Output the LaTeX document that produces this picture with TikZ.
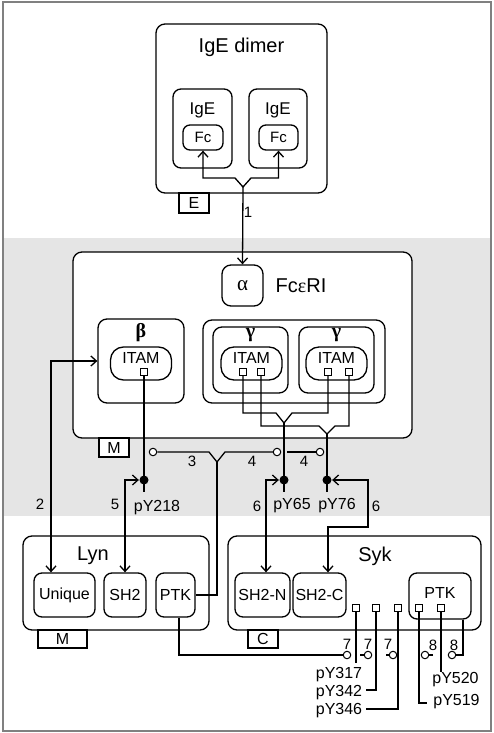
\documentclass[tikz,border=0pt]{standalone}
\usepackage{fontspec}
\setmainfont{Liberation Sans}
\newfontfamily\grk{Liberation Serif}
\usetikzlibrary{arrows.meta}

\begin{document}
\begin{tikzpicture}[x=1pt, y=-1pt, line width=1.3pt,
    font=\fontsize{16}{19}\selectfont,
    >={Straight Barb[length=5.5pt,width=10pt]},
    box/.style={draw, fill=white, rounded corners=9pt, inner sep=0pt},
    tag/.style={draw, fill=white, inner sep=0pt},
    itam/.style={draw, fill=white, rounded corners=13pt, minimum width=61pt, minimum height=33pt},
    site/.style={draw, fill=white, inner sep=0pt, minimum size=7pt, line width=1pt},
    pdot/.style={circle, fill=black, inner sep=0pt, minimum size=9pt},
    ring/.style={circle, draw, fill=white, inner sep=0pt, minimum size=7.5pt, line width=1pt},
    big/.style={font=\fontsize{20}{23}\selectfont, anchor=base},
    num/.style={font=\fontsize{15}{18}\selectfont, anchor=base},
    plab/.style={anchor=base},
    grkb/.style={font=\grk\bfseries\fontsize{20}{22}\selectfont}]
  \useasboundingbox (0,0) rectangle (493,733);
  % membrane band and frame
  \fill[gray!20] (3,238) rectangle (491,516);
  \draw[gray, line width=1.5pt] (3,2) rectangle (491,731);

  % IgE dimer
  \node[box, minimum width=171pt, minimum height=169pt] (dimer) at (241.5,108.5) {};
  \node[big] (dimerT) at (241.5,53) {IgE dimer};
  \node[tag, minimum width=30pt, minimum height=20pt] (E) at (194,203) {E};
  \node[box, rounded corners=8pt, minimum width=59pt, minimum height=79pt] (igeL) at (202.5,128.5) {};
  \node[box, rounded corners=8pt, minimum width=58pt, minimum height=79pt] (igeR) at (278,128.5) {};
  \node[plab, font=\fontsize{17}{20}\selectfont] (igeLT) at (202.5,115) {IgE};
  \node[plab, font=\fontsize{17}{20}\selectfont] (igeRT) at (278,115) {IgE};
  \node[box, rounded corners=7pt, minimum width=40pt, minimum height=25pt, font=\fontsize{15}{17}\selectfont] (fcL) at (203,137.5) {Fc};
  \node[box, rounded corners=7pt, minimum width=39pt, minimum height=25pt, font=\fontsize{15}{17}\selectfont] (fcR) at (278.5,137.5) {Fc};

  % Fc epsilon RI
  \node[box, minimum width=339pt, minimum height=186pt] (fceri) at (242.5,345) {};
  \node[tag, minimum width=30pt, minimum height=19pt] (M1) at (114,447.5) {M};
  \node[box, minimum width=41pt, minimum height=41pt, font=\grk\fontsize{21}{24}\selectfont] (alpha) at (242.5,285.5) {α};
  \node[big] (fceriT) at (301,292) {Fc{\grk ε}RI};
  \node[box, minimum width=86pt, minimum height=84pt] (beta) at (141,361) {};
  \node[grkb] (betaT) at (141,333) {β};
  \node[itam] (itamB) at (141,363.5) {};
  \node (itamBT) at (141,358) {ITAM};
  \node[box, minimum width=182pt, minimum height=83pt] (gamma) at (294,361.5) {};
  \node[box, minimum width=75pt, minimum height=66pt] (gamL) at (250.5,360) {};
  \node[box, minimum width=75pt, minimum height=66pt] (gamR) at (336.5,360) {};
  \node[grkb] (gamLT) at (250.5,335) {γ};
  \node[grkb] (gamRT) at (336.5,335) {γ};
  \node[itam] (itamL) at (251.5,363.5) {};
  \node[itam] (itamR) at (336.5,363.5) {};
  \node (itamLT) at (251.5,358) {ITAM};
  \node (itamRT) at (336.5,358) {ITAM};

  % Lyn
  \node[box, minimum width=186pt, minimum height=94pt] (lyn) at (116,583) {};
  \node[big] (lynT) at (93,560) {Lyn};
  \node[tag, minimum width=49pt, minimum height=18pt] (M2) at (62.5,639) {M};
  \node[box, rounded corners=8pt, minimum width=61pt, minimum height=44pt] (unique) at (64.5,595) {Unique};
  \node[box, rounded corners=8pt, minimum width=42pt, minimum height=44pt] (sh2) at (125,595) {SH2};
  \node[box, rounded corners=8pt, minimum width=39pt, minimum height=44pt] (ptkL) at (175.5,595) {PTK};

  % Syk
  \node[box, minimum width=253pt, minimum height=94pt] (syk) at (354.5,583) {};
  \node[big] (sykT) at (375,561) {Syk};
  \node[tag, minimum width=30pt, minimum height=18pt] (C) at (263,639) {C};
  \node[box, rounded corners=8pt, minimum width=55pt, minimum height=44pt] (sh2n) at (262.5,595) {SH2-N};
  \node[box, rounded corners=8pt, minimum width=53pt, minimum height=44pt] (sh2c) at (319.5,595) {SH2-C};
  \node[box, rounded corners=8pt, minimum width=62pt, minimum height=46pt] (ptkS) at (440,596) {};
  \node (ptkST) at (440,593) {PTK};

  % tyrosine sites
  \node[site] (sqB) at (144,372) {};
  \node[site] (sqG1) at (243,372) {};
  \node[site] (sqG2) at (261,372) {};
  \node[site] (sqG3) at (328,372) {};
  \node[site] (sqG4) at (349,372) {};
  \node[site] (sqS1) at (356,608) {};
  \node[site] (sqS2) at (376,608) {};
  \node[site] (sqS3) at (398,608) {};
  \node[site] (sqS4) at (419,608) {};
  \node[site] (sqS5) at (441,608) {};

  % phospho sites and catalysis marks
  \node[pdot] (dot218) at (144,480) {};
  \node[pdot] (dot65) at (284,480) {};
  \node[pdot] (dot76) at (327,480) {};
  \node[ring] (c3) at (153,452) {};
  \node[ring] (c4a) at (277,452) {};
  \node[ring] (c4b) at (320,452) {};
  \node[ring] (c7a) at (347,655) {};
  \node[ring] (c7b) at (368,655) {};
  \node[ring] (c7c) at (393,655) {};
  \node[ring] (c8a) at (425,655) {};
  \node[ring] (c8b) at (452,655) {};

  \coordinate (v0) at (243,187);
  \coordinate (v3) at (217,462);
  \coordinate (v65) at (284,423);
  \coordinate (v76) at (327,434);
  \coordinate (g4) at (287,452);
  \coordinate (g7b) at (360,655);
  \coordinate (g7c) at (386,655);
  \coordinate (g8) at (433,655);
  \coordinate (k6) at (368,527);
  \coordinate (e218) at (144,492);
  \coordinate (e65) at (284,492);
  \coordinate (e76) at (327,492);
  \coordinate (e317) at (356,663);
  \coordinate (e342) at (366,690);
  \coordinate (e346) at (366,709);
  \coordinate (e519) at (427,703);
  \coordinate (e520) at (441,672);

  % 1: IgE binds alpha
  \draw[<->] (fcL.south) |- ([xshift=-8pt,yshift=9pt]v0) -- (v0) -- ([xshift=8pt,yshift=9pt]v0) -| (fcR.south);
  \draw[->] (v0) -- (alpha.north);
  \node[num] (n1) at (248,217) {1};

  % ITAM tyrosines
  \draw (sqB.south) -- (dot218.center) -- (e218);
  \draw (sqG1.south) |- ([xshift=-8pt,yshift=10pt]v65) -- (v65) -- ([xshift=8pt,yshift=10pt]v65) -| (sqG3.south);
  \draw (sqG2.south) |- ([xshift=-8pt,yshift=8pt]v76) -- (v76) -- ([xshift=8pt,yshift=8pt]v76) -| (sqG4.south);
  \draw (v65) -- (dot65.center) -- (e65);
  \draw (v76) -- (dot76.center) -- (e76);

  % 3, 4: Lyn PTK
  \draw (c3.east) -- ([xshift=-8pt,yshift=10pt]v3) -- (v3) -- ([xshift=8pt,yshift=10pt]v3) -- (c4a.west);
  \draw (v3) |- (ptkL.east);
  \draw (g4) -- (c4b.west);
  \node[num] (n3) at (192,466) {3};
  \node[num] (n4a) at (252,466) {4};
  \node[num] (n4b) at (304,466) {4};

  % 2, 5, 6: binding
  \draw[<->] (beta.west) -| ([xshift=-13.5pt]unique.north);
  \draw[<->] (dot218.west) -| (sh2.north);
  \draw[<->] (dot65.west) -| ([xshift=3.5pt]sh2n.north);
  \draw[<->] (dot76.east) -| (k6) -| ([xshift=8.5pt]sh2c.north);
  \node[num] (n2) at (40,509.5) {2};
  \node[num] (n5) at (115,509.5) {5};
  \node[num] (n6a) at (257,511) {6};
  \node[num] (n6b) at (376,511) {6};
  \node[plab] (l218) at (157,511) {pY218};
  \node[plab] (l65) at (292,509) {pY65};
  \node[plab] (l76) at (337,509) {pY76};

  % 7, 8: Syk tyrosines
  \draw ([xshift=3.5pt]ptkL.south) |- (c7a.west);
  \draw (g7b) -- (c7b.west);
  \draw (g7c) -- (c7c.west);
  \draw ([xshift=23pt]ptkS.south) |- (c8b.east);
  \draw (g8) -- (c8a.east);
  \draw (sqS1.south) -- (e317);
  \draw (sqS2.south) |- (e342);
  \draw (sqS3.south) |- (e346);
  \draw (sqS4.south) |- (e519);
  \draw (sqS5.south) -- (e520);
  \node[num] (n7a) at (347,649) {7};
  \node[num] (n7b) at (368,649) {7};
  \node[num] (n7c) at (388,649) {7};
  \node[num] (n8a) at (433,650) {8};
  \node[num] (n8b) at (454,650) {8};
  \node[plab] (l317) at (339,678.5) {pY317};
  \node[plab] (l342) at (339,696.5) {pY342};
  \node[plab] (l346) at (339,714.5) {pY346};
  \node[plab] (l519) at (456.5,705.5) {pY519};
  \node[plab] (l520) at (455.5,683.5) {pY520};
\end{tikzpicture}
\end{document}
